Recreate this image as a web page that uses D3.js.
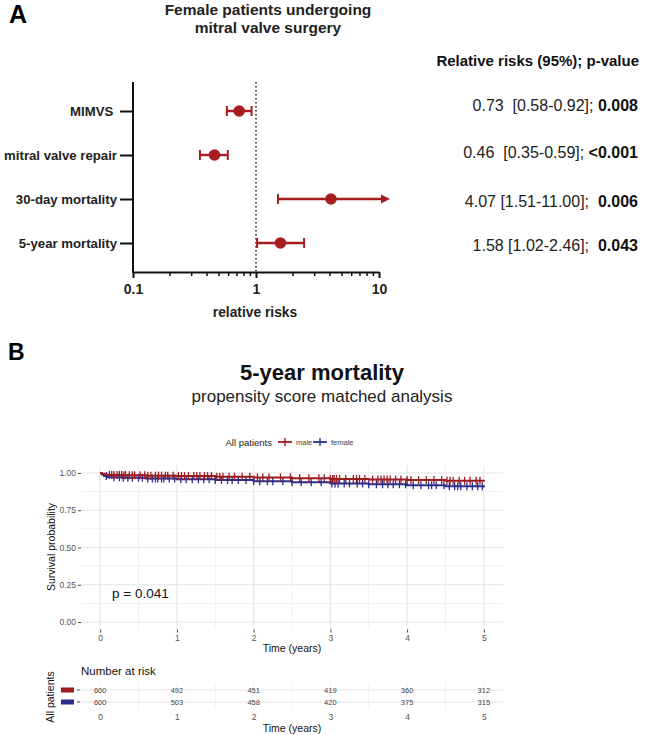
<!DOCTYPE html>
<html><head><meta charset="utf-8">
<script src="https://cdn.jsdelivr.net/npm/d3@7"></script>
<style>body{margin:0;background:#fff}svg{display:block;font-family:"Liberation Sans",Arial,Helvetica,sans-serif}</style>
</head><body><svg id="c" width="650" height="735"></svg>
<script>
// ---------- Panel A data ----------
const outcomes = ["MIMVS\u00a0", "mitral valve repair", "30-day mortality", "5-year mortality"];
const rr = [0.73, 0.46, 4.07, 1.58];
const lower = [0.58, 0.35, 1.51, 1.02];
const upper = [0.92, 0.59, 11.00, 2.46];
const rrText = ["0.73  [0.58-0.92]; ", "0.46  [0.35-0.59]; ", "4.07 [1.51-11.00];  ", "1.58 [1.02-2.46];  "];
const pText = ["0.008", "<0.001", "0.006", "0.043"];
const xTicksA = [0.1, 1, 10];

// ---------- Panel B data ----------
const groups = ["male", "female"];
const kmTimes = [0, 0.02, 0.05, 0.1, 0.3, 0.6, 1, 1.5, 2, 2.5, 3, 3.5, 4, 4.5, 5];
const survMale   = [1, 0.995, 0.99, 0.987, 0.985, 0.982, 0.979, 0.975, 0.970, 0.965, 0.960, 0.956, 0.952, 0.947, 0.942];
const survFemale = [1, 0.990, 0.98, 0.972, 0.968, 0.963, 0.958, 0.952, 0.945, 0.937, 0.930, 0.924, 0.917, 0.910, 0.903];
const censorMale = [0.12,0.15,0.18,0.22,0.25,0.28,0.31,0.33,0.38,0.42,0.45,0.52,0.58,0.62,0.66,0.72,0.76,0.8,0.85,0.88,0.95,1.02,1.06,1.1,1.15,1.22,1.26,1.3,1.36,1.4,1.45,1.52,1.56,1.6,1.68,1.75,1.85,1.95,2.05,2.12,2.2,2.35,2.48,2.6,2.72,2.85,2.92,3.0,3.03,3.05,3.08,3.12,3.2,3.3,3.34,3.38,3.45,3.55,3.62,3.66,3.7,3.74,3.78,3.85,3.92,4.0,4.05,4.15,4.25,4.35,4.45,4.52,4.56,4.6,4.68,4.75,4.82,4.9,4.95];
const censorFemale = [0.08,0.18,0.25,0.3,0.36,0.42,0.5,0.55,0.62,0.68,0.72,0.75,0.8,0.83,0.9,0.97,1.05,1.12,1.2,1.28,1.35,1.42,1.5,1.58,1.66,1.72,1.8,1.9,2.0,2.08,2.18,2.25,2.38,2.5,2.62,2.75,2.88,3.02,3.06,3.1,3.18,3.25,3.35,3.42,3.5,3.6,3.68,3.75,3.82,3.9,3.98,4.08,4.18,4.28,4.32,4.38,4.48,4.55,4.62,4.66,4.7,4.78,4.85,4.92,4.98];
const riskTimes = [0, 1, 2, 3, 4, 5];
const riskMale = [600, 492, 451, 419, 360, 312];
const riskFemale = [600, 503, 458, 420, 375, 315];
const yTicksB = [0, 0.25, 0.5, 0.75, 1];

const svg = d3.select("#c");
const red = "#a71d1f";

// ================= Panel A =================
svg.append("text").attr("x", 9).attr("y", 23).attr("font-size", 25).attr("font-weight", "bold").text("A");
svg.append("text").attr("x", 268).attr("y", 15).attr("text-anchor", "middle").attr("font-size", 15.5).attr("font-weight", "bold").attr("fill", "#222").text("Female patients undergoing");
svg.append("text").attr("x", 268).attr("y", 33).attr("text-anchor", "middle").attr("font-size", 15.5).attr("font-weight", "bold").attr("fill", "#222").text("mitral valve surgery");

const xA = d3.scaleLog().domain([0.1, 10]).range([133, 379]);
const yA = d3.scalePoint().domain(outcomes).range([111, 243]);
const axTop = 82, axBot = 272;

const gxA = svg.append("g").attr("transform", `translate(0,${axBot})`)
  .call(d3.axisBottom(xA).tickValues(xTicksA).tickFormat(d => d3.format("~g")(d)).tickSize(6).tickSizeOuter(0));
gxA.select(".domain").attr("stroke-width", 2).attr("stroke", "#111");
gxA.selectAll(".tick line").attr("stroke-width", 2).attr("stroke", "#111");
gxA.selectAll(".tick text").attr("font-size", 14).attr("font-weight", "bold").attr("fill", "#222").attr("dy", "0.95em").attr("font-family", "Liberation Sans, Arial");
const minor = [];
[0.1, 1].forEach(b => { for (let k = 2; k <= 9; k++) minor.push(b * k); });
svg.append("g").selectAll("line").data(minor).join("line")
  .attr("x1", d => xA(d)).attr("x2", d => xA(d)).attr("y1", axBot).attr("y2", axBot + 4)
  .attr("stroke", "#111").attr("stroke-width", 1.5);
svg.append("line").attr("x1", 133).attr("x2", 133).attr("y1", axTop).attr("y2", axBot + 1).attr("stroke", "#111").attr("stroke-width", 2);
const gyA = svg.append("g").attr("transform", "translate(133,0)")
  .call(d3.axisLeft(yA).tickSize(13).tickSizeOuter(0));
gyA.select(".domain").remove();
gyA.selectAll(".tick line").attr("stroke-width", 2).attr("stroke", "#111");
gyA.selectAll(".tick text").attr("font-size", 13.2).attr("font-weight", "bold").attr("fill", "#222").attr("x", -16).attr("font-family", "Liberation Sans, Arial");

svg.append("text").attr("x", 255).attr("y", 317).attr("text-anchor", "middle").attr("font-size", 13.8).attr("font-weight", "bold").attr("fill", "#222").text("relative risks");

svg.append("line").attr("x1", xA(1)).attr("x2", xA(1)).attr("y1", axTop).attr("y2", axBot)
  .attr("stroke", "#111").attr("stroke-width", 1.5).attr("stroke-dasharray", "1.5,2.5");

const rows = outcomes.map((o, i) => ({o, rr: rr[i], lo: lower[i], hi: upper[i], clipped: upper[i] > 10}));
const gm = svg.append("g");
rows.forEach(r => {
  const y = yA(r.o);
  const xh = r.clipped ? xA(10) + 2 : xA(r.hi);
  gm.append("line").attr("x1", xA(r.lo)).attr("x2", xh).attr("y1", y).attr("y2", y).attr("stroke", red).attr("stroke-width", 2.4);
  gm.append("line").attr("x1", xA(r.lo)).attr("x2", xA(r.lo)).attr("y1", y - 5).attr("y2", y + 5).attr("stroke", red).attr("stroke-width", 2);
  if (!r.clipped) {
    gm.append("line").attr("x1", xA(r.hi)).attr("x2", xA(r.hi)).attr("y1", y - 5).attr("y2", y + 5).attr("stroke", red).attr("stroke-width", 2);
  } else {
    gm.append("path").attr("d", `M${xh},${y - 4.5}L${xh + 9},${y}L${xh},${y + 4.5}Z`).attr("fill", red);
  }
  gm.append("circle").attr("cx", xA(r.rr)).attr("cy", y).attr("r", 5.8).attr("fill", red);
});

svg.append("text").attr("x", 639).attr("y", 66).attr("text-anchor", "end").attr("font-size", 15).attr("font-weight", "bold").attr("fill", "#111").text("Relative risks (95%); p-value");
const textY = [111, 158, 207, 251];
outcomes.forEach((o, i) => {
  const t = svg.append("text").attr("x", 638).attr("y", textY[i]).attr("text-anchor", "end").attr("font-size", 16).attr("fill", "#222").attr("xml:space", "preserve").style("white-space", "pre");
  t.append("tspan").text(rrText[i]);
  t.append("tspan").attr("font-weight", "bold").attr("fill", "#111").text(pText[i]);
});

// ================= Panel B =================
svg.append("text").attr("x", 8).attr("y", 360).attr("font-size", 23).attr("font-weight", "bold").text("B");
svg.append("text").attr("x", 322).attr("y", 380).attr("text-anchor", "middle").attr("font-size", 22).attr("font-weight", "bold").attr("fill", "#111").text("5-year mortality");
svg.append("text").attr("x", 322).attr("y", 402).attr("text-anchor", "middle").attr("font-size", 17).attr("fill", "#222").text("propensity score matched analysis");

const xB = d3.scaleLinear().domain([-0.25, 5.25]).range([81, 503]);
const yB = d3.scaleLinear().domain([-0.05, 1.05]).range([629.5, 465.5]);
const gridCol = "#e4e4e4", minorCol = "#f1f1f1";

const gB = svg.append("g");
[0.125, 0.375, 0.625, 0.875].forEach(v => gB.append("line").attr("x1", 81).attr("x2", 503).attr("y1", yB(v)).attr("y2", yB(v)).attr("stroke", minorCol));
[0.5, 1.5, 2.5, 3.5, 4.5].forEach(v => gB.append("line").attr("x1", xB(v)).attr("x2", xB(v)).attr("y1", 465.5).attr("y2", 629.5).attr("stroke", minorCol));
yTicksB.forEach(v => gB.append("line").attr("x1", 81).attr("x2", 503).attr("y1", yB(v)).attr("y2", yB(v)).attr("stroke", gridCol));
riskTimes.forEach(v => gB.append("line").attr("x1", xB(v)).attr("x2", xB(v)).attr("y1", 465.5).attr("y2", 629.5).attr("stroke", gridCol));

const gyB = svg.append("g").attr("transform", "translate(81,0)").call(d3.axisLeft(yB).tickValues(yTicksB).tickFormat(d3.format(".2f")).tickSize(3));
gyB.select(".domain").remove();
gyB.selectAll(".tick line").attr("stroke", "#444");
gyB.selectAll(".tick text").attr("font-size", 8.5).attr("fill", "#555").attr("x", -5);
const gxB = svg.append("g").attr("transform", "translate(0,629.5)").call(d3.axisBottom(xB).tickValues(riskTimes).tickFormat(d3.format("d")).tickSize(3));
gxB.select(".domain").remove();
gxB.selectAll(".tick line").attr("stroke", "#444");
gxB.selectAll(".tick text").attr("font-size", 8.5).attr("fill", "#555").attr("y", 5);
svg.append("text").attr("x", 292).attr("y", 652).attr("text-anchor", "middle").attr("font-size", 10.5).attr("fill", "#111").text("Time (years)");
svg.append("text").attr("transform", "translate(55,547) rotate(-90)").attr("text-anchor", "middle").attr("font-size", 10.5).attr("fill", "#111").text("Survival probability");

const colors = {male: "#9b1b1e", female: "#2c2e8c"};
const survs = {male: survMale, female: survFemale};
const cens = {male: censorMale, female: censorFemale};
const line = d3.line().x(d => xB(d[0])).y(d => yB(d[1])).curve(d3.curveStepAfter);
const bis = d3.bisector(d => d).right;
["female", "male"].forEach(g => {
  const pts = kmTimes.map((t, i) => [t, survs[g][i]]);
  svg.append("path").attr("d", line(pts)).attr("fill", "none").attr("stroke", colors[g]).attr("stroke-width", 2);
  const cg = svg.append("g");
  cens[g].forEach(t => {
    const s = survs[g][Math.max(0, bis(kmTimes, t) - 1)];
    cg.append("line").attr("x1", xB(t)).attr("x2", xB(t)).attr("y1", yB(s) - 4).attr("y2", yB(s) + 4).attr("stroke", colors[g]).attr("stroke-width", 1.3);
  });
});

svg.append("text").attr("x", 112).attr("y", 598).attr("font-size", 13.5).attr("fill", "#111").text("p = 0.041");

const lg = svg.append("g");
lg.append("text").attr("x", 272).attr("y", 445.5).attr("text-anchor", "end").attr("font-size", 9.5).attr("fill", "#222").text("All patients");
const legItems = [{g: "male", x: 278}, {g: "female", x: 313}];
legItems.forEach(it => {
  lg.append("line").attr("x1", it.x).attr("x2", it.x + 14).attr("y1", 442).attr("y2", 442).attr("stroke", colors[it.g]).attr("stroke-width", 1.8);
  lg.append("line").attr("x1", it.x + 7).attr("x2", it.x + 7).attr("y1", 438).attr("y2", 446).attr("stroke", colors[it.g]).attr("stroke-width", 1.4);
  lg.append("text").attr("x", it.x + 18).attr("y", 444.5).attr("font-size", 7.5).attr("fill", "#444").text(it.g);
});

svg.append("text").attr("x", 81).attr("y", 675).attr("font-size", 11.5).attr("fill", "#111").text("Number at risk");
const rowY = {male: 690, female: 702};
const gr = svg.append("g");
[0.5, 1.5, 2.5, 3.5, 4.5].forEach(v => gr.append("line").attr("x1", xB(v)).attr("x2", xB(v)).attr("y1", 683).attr("y2", 709).attr("stroke", minorCol));
riskTimes.forEach(v => gr.append("line").attr("x1", xB(v)).attr("x2", xB(v)).attr("y1", 683).attr("y2", 709).attr("stroke", minorCol));
groups.forEach(g => {
  gr.append("line").attr("x1", 81).attr("x2", 503).attr("y1", rowY[g]).attr("y2", rowY[g]).attr("stroke", gridCol);
  gr.append("rect").attr("x", 61).attr("y", rowY[g] - 2.5).attr("width", 13).attr("height", 5).attr("fill", colors[g]);
  gr.append("line").attr("x1", 77).attr("x2", 80).attr("y1", rowY[g]).attr("y2", rowY[g]).attr("stroke", "#444");
});
riskTimes.forEach((t, i) => {
  gr.append("text").attr("x", xB(t)).attr("y", rowY.male + 2.5).attr("text-anchor", "middle").attr("font-size", 7.5).attr("fill", "#444").text(riskMale[i]);
  gr.append("text").attr("x", xB(t)).attr("y", rowY.female + 2.5).attr("text-anchor", "middle").attr("font-size", 7.5).attr("fill", "#444").text(riskFemale[i]);
});
const gxR = svg.append("g").attr("transform", "translate(0,711)").call(d3.axisBottom(xB).tickValues(riskTimes).tickFormat(d3.format("d")).tickSize(0));
gxR.select(".domain").remove();
gxR.selectAll(".tick text").attr("font-size", 8.5).attr("fill", "#555").attr("y", 3);
svg.append("text").attr("x", 292).attr("y", 732).attr("text-anchor", "middle").attr("font-size", 10.5).attr("fill", "#111").text("Time (years)");
svg.append("text").attr("transform", "translate(54,697) rotate(-90)").attr("text-anchor", "middle").attr("font-size", 10.5).attr("fill", "#111").text("All patients");
</script></body></html>
